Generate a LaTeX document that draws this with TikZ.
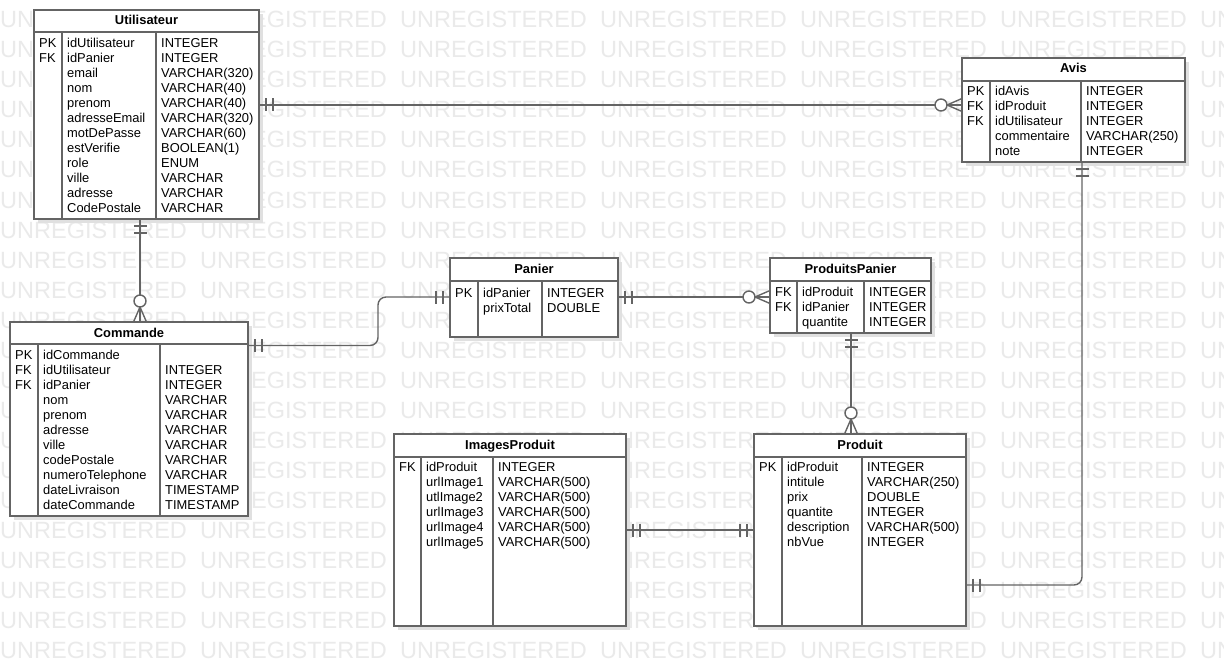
\documentclass[tikz,border=0pt]{standalone}
\usepackage{fontspec}
\setmainfont{Liberation Sans}
\usetikzlibrary{calc}
\definecolor{linec}{RGB}{100,100,100}
\definecolor{wmc}{RGB}{234,234,234}
\definecolor{shc}{RGB}{224,224,224}
\tikzset{
 tbl/.style={draw=linec, line width=1.4pt, fill=white, inner sep=0pt, outer sep=0pt},
 tline/.style={draw=linec, line width=1.4pt},
 conn/.style={draw=linec, line width=1.4pt},
 cell/.style={anchor=base west, inner sep=0pt, font=\fontsize{12.9}{15}\selectfont},
 ttl/.style={anchor=base, inner sep=0pt, font=\fontsize{12.9}{15}\selectfont\bfseries},
 wm/.style={anchor=base west, inner sep=0pt, text=wmc, font=\fontsize{23.5}{24}\selectfont},
}
% name, x1, y1, x2, y2, header line y, divider 1, divider 2, title
\newcommand\ertab[9]{%
  \fill[shc] (#2+4,#3+4) rectangle (#4+4,#5+4);
  \node[tbl, anchor=north west, minimum width={#4-#2}, minimum height={#5-#3}] (#1) at (#2,#3) {};
  \draw[tline] (#2,#6) -- (#4,#6);
  \draw[tline] (#7,#6) -- (#7,#5);
  \draw[tline] (#8,#6) -- (#8,#5);
  \node[ttl] (#1-title) at ({(#2+#4)/2},#3+15) {#9};
}
% prefix, x, first baseline, list
\newcommand\ercol[4]{\foreach \ercell [count=\i] in {#4}{\node[cell] (#1-\i) at (#2,{#3+15*(\i-1)}) {\ercell};}}
\newcommand\erbars[2]{\begin{scope}[shift={(#1)}, rotate=#2]\draw[conn] (7,-6.5) -- (7,6.5) (14,-6.5) -- (14,6.5);\end{scope}}
\newcommand\erzmany[2]{\begin{scope}[shift={(#1)}, rotate=#2]\draw[conn] (0,-6.5) -- (15,0) -- (0,6.5); \draw[conn, fill=white] (21,0) circle (6);\end{scope}}
\begin{document}
\begin{tikzpicture}[x=1pt, y=-1pt]
\useasboundingbox (0,0) rectangle (1224,666);
\clip (0,0) rectangle (1224,666);
\fill[white] (0,0) rectangle (1224,666);
% watermark
\foreach \r in {0,...,21}{\foreach \c in {0,...,6}{\node[wm] (wm-\r-\c) at (\c*200, 28+30*\r) {UNREGISTERED};}}
% tables
\ertab{U}{34}{10}{259}{219}{32}{62}{156}{Utilisateur}
\ercol{Uk}{39}{47.5}{PK,FK}
\ercol{Un}{67}{47.5}{idUtilisateur,idPanier,email,nom,prenom,adresseEmail,motDePasse,estVerifie,role,ville,adresse,CodePostale}
\ercol{Ut}{161}{47.5}{INTEGER,INTEGER,VARCHAR(320),VARCHAR(40),VARCHAR(40),VARCHAR(320),VARCHAR(60),BOOLEAN(1),ENUM,VARCHAR,VARCHAR,VARCHAR}

\ertab{C}{10}{322}{248}{516}{344}{38}{160}{Commande}
\ercol{Ck}{15}{359.5}{PK,FK,FK}
\ercol{Cn}{43}{359.5}{idCommande,idUtilisateur,idPanier,nom,prenom,adresse,ville,codePostale,numeroTelephone,dateLivraison,dateCommande}
\ercol{Ct}{165}{374.5}{INTEGER,INTEGER,VARCHAR,VARCHAR,VARCHAR,VARCHAR,VARCHAR,VARCHAR,TIMESTAMP,TIMESTAMP}

\ertab{P}{450}{258}{618}{337}{281}{478}{542}{Panier}
\ercol{Pk}{455}{297}{PK}
\ercol{Pn}{483}{297}{idPanier,prixTotal}
\ercol{Pt}{547}{297}{INTEGER,DOUBLE}

\ertab{PP}{770}{258}{931}{333}{281}{797}{864}{ProduitsPanier}
\ercol{PPk}{775}{296}{FK,FK}
\ercol{PPn}{802}{296}{idProduit,idPanier,quantite}
\ercol{PPt}{869}{296}{INTEGER,INTEGER,INTEGER}

\ertab{A}{962}{58}{1185}{162}{81}{990}{1081}{Avis}
\ercol{Ak}{967}{95.5}{PK,FK,FK}
\ercol{An}{995}{95.5}{idAvis,idProduit,idUtilisateur,commentaire,note}
\ercol{At}{1086}{95.5}{INTEGER,INTEGER,INTEGER,VARCHAR(250),INTEGER}

\ertab{IP}{394}{434}{626}{626}{457}{421}{493}{ImagesProduit}
\ercol{IPk}{399}{471.5}{FK}
\ercol{IPn}{426}{471.5}{idProduit,urlImage1,utlImage2,urlImage3,urlImage4,urlImage5}
\ercol{IPt}{498}{471.5}{INTEGER,VARCHAR(500),VARCHAR(500),VARCHAR(500),VARCHAR(500),VARCHAR(500)}

\ertab{Pr}{754}{434}{966}{626}{457}{782}{862}{Produit}
\ercol{Prk}{759}{471.5}{PK}
\ercol{Prn}{787}{471.5}{idProduit,intitule,prix,quantite,description,nbVue}
\ercol{Prt}{867}{471.5}{INTEGER,VARCHAR(250),DOUBLE,INTEGER,VARCHAR(500),INTEGER}

% connector end points
\coordinate (ua) at ($(U.north east)+(0,95)$);
\coordinate (au) at ($(A.north west)+(0,47)$);
\coordinate (uc) at ($(U.south west)+(106,0)$);
\coordinate (cu) at ($(C.north west)+(130,0)$);
\coordinate (cp) at ($(C.north east)+(0,23.5)$);
\coordinate (pc) at ($(P.north west)+(0,39)$);
\coordinate (ppa) at ($(P.north east)+(0,39)$);
\coordinate (ppb) at ($(PP.north west)+(0,39)$);
\coordinate (ppr) at ($(PP.south west)+(81,0)$);
\coordinate (prpp) at ($(Pr.north west)+(97,0)$);
\coordinate (ipr) at ($(IP.north east)+(0,96)$);
\coordinate (pri) at ($(Pr.north west)+(0,96)$);
\coordinate (pra) at ($(Pr.north east)+(0,151)$);
\coordinate (apr) at ($(A.south west)+(120,0)$);
\coordinate (cpbend) at ($(pc)+(-72,0)$);

% connectors
\draw[conn] (ua) -- (au);
\draw[conn] (uc) -- (cu);
\draw[conn, rounded corners=8pt] (cp) -| (cpbend) -- (pc);
\draw[conn] (ppa) -- (ppb);
\draw[conn] (ppr) -- (prpp);
\draw[conn] (ipr) -- (pri);
\draw[conn, rounded corners=8pt] (pra) -| (apr);

% end marks
\erbars{ua}{0}
\erzmany{au}{180}
\erbars{uc}{-90}
\erzmany{cu}{90}
\erbars{cp}{0}
\erbars{pc}{180}
\erbars{ppa}{0}
\erzmany{ppb}{180}
\erbars{ppr}{-90}
\erzmany{prpp}{90}
\erbars{ipr}{0}
\erbars{pri}{180}
\erbars{pra}{0}
\erbars{apr}{-90}
\end{tikzpicture}
\end{document}
